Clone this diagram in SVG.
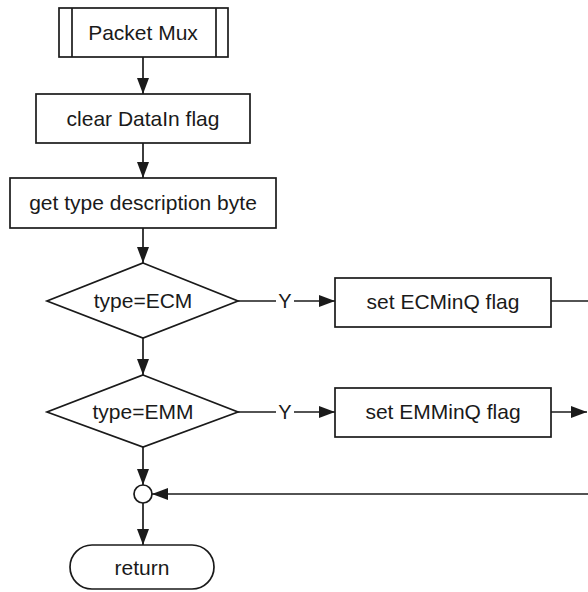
<svg xmlns="http://www.w3.org/2000/svg" width="588" height="592" viewBox="0 0 588 592">
<style>
.s{fill:#fff;stroke:#1a1a1a;stroke-width:1.7}
.c{fill:none;stroke:#1a1a1a;stroke-width:1.7}
.t{font-family:"Liberation Sans",Arial,sans-serif;font-size:21px;fill:#1a1a1a;text-anchor:middle}
</style>
<defs>
<marker id="a" viewBox="0 0 16 12" refX="16" refY="6" markerWidth="16" markerHeight="12" markerUnits="userSpaceOnUse" orient="auto">
<path d="M0,0 L16,6 L0,12 Z" fill="#1a1a1a"/>
</marker>
</defs>
<rect width="588" height="592" fill="#fff"/>
<g id="connectors">
<line class="c" x1="143" y1="57" x2="143" y2="94" marker-end="url(#a)"/>
<line class="c" x1="143" y1="143" x2="143" y2="178" marker-end="url(#a)"/>
<line class="c" x1="143" y1="228" x2="143" y2="263" marker-end="url(#a)"/>
<line class="c" x1="143" y1="338" x2="143" y2="375" marker-end="url(#a)"/>
<line class="c" x1="143" y1="447" x2="143" y2="485" marker-end="url(#a)"/>
<line class="c" x1="143" y1="503" x2="143" y2="545" marker-end="url(#a)"/>
<line class="c" x1="238" y1="301" x2="276" y2="301"/>
<text class="t" x="285" y="308" style="font-size:20px">Y</text>
<line class="c" x1="294" y1="301" x2="335" y2="301" marker-end="url(#a)"/>
<line class="c" x1="238" y1="412" x2="276" y2="412"/>
<text class="t" x="285" y="419" style="font-size:20px">Y</text>
<line class="c" x1="294" y1="412" x2="335" y2="412" marker-end="url(#a)"/>
<line class="c" x1="551" y1="301" x2="588" y2="301"/>
<line class="c" x1="551" y1="412" x2="587" y2="412" marker-end="url(#a)"/>
<line class="c" x1="588" y1="494" x2="152" y2="494" marker-end="url(#a)"/>
</g>
<g id="packet-mux">
<rect class="s" x="59" y="8" width="169" height="49"/>
<line class="c" x1="72" y1="8" x2="72" y2="57"/>
<line class="c" x1="216" y1="8" x2="216" y2="57"/>
<text class="t" x="143" y="40">Packet Mux</text>
</g>
<g id="clear-datain">
<rect class="s" x="36" y="94" width="214" height="49"/>
<text class="t" x="143" y="126">clear DataIn flag</text>
</g>
<g id="get-type">
<rect class="s" x="10" y="178" width="266" height="50"/>
<text class="t" x="143" y="210">get type description byte</text>
</g>
<g id="type-ecm">
<polygon class="s" points="143,263 238,301 143,338 47,301"/>
<text class="t" x="143" y="308">type=ECM</text>
</g>
<g id="set-ecminq">
<rect class="s" x="335" y="278" width="216" height="49"/>
<text class="t" x="443" y="309">set ECMinQ flag</text>
</g>
<g id="type-emm">
<polygon class="s" points="143,375 238,412 143,447 47,412"/>
<text class="t" x="143" y="419">type=EMM</text>
</g>
<g id="set-emminq">
<rect class="s" x="335" y="388" width="216" height="49"/>
<text class="t" x="443" y="419">set EMMinQ flag</text>
</g>
<g id="junction">
<circle class="s" cx="143" cy="494" r="9"/>
</g>
<g id="return">
<rect class="s" x="70" y="545" width="144" height="44" rx="22" ry="22"/>
<text class="t" x="142" y="575">return</text>
</g>
</svg>
